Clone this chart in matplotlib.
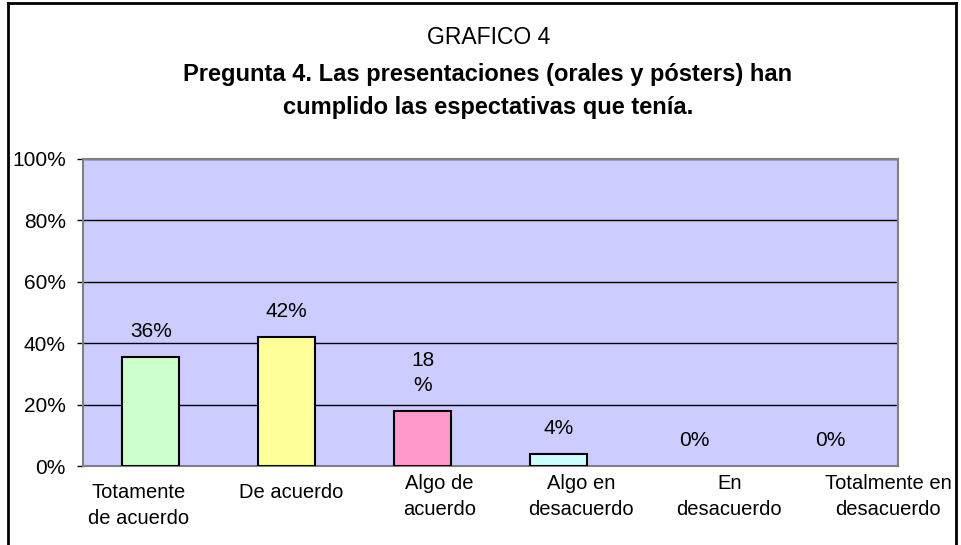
import matplotlib
matplotlib.use("Agg")
import matplotlib.pyplot as plt
from matplotlib.lines import Line2D

# Data
categories = ["Totamente\nde acuerdo", "De acuerdo", "Algo de\nacuerdo",
              "Algo en\ndesacuerdo", "En\ndesacuerdo", "Totalmente en\ndesacuerdo"]
values = [0.355, 0.42, 0.178, 0.038, 0.0, 0.0]
value_labels = ["36%", "42%", "18\n%", "4%", "0%", "0%"]
y_ticks = [0.0, 0.2, 0.4, 0.6, 0.8, 1.0]
y_tick_labels = ["0%", "20%", "40%", "60%", "80%", "100%"]

bar_colors = ["#CCFFCC", "#FFFF99", "#FF99CC", "#CCFFFF", "#CCFFFF", "#CCFFFF"]
# Excel places the wrapped category labels a bit off-centre (pixels)
label_dx = [-12, 4, 17, 23, 35, 58]
label_dy = [17, 17, 8, 8, 8, 8]

plt.rcParams["font.family"] = ["Liberation Sans", "DejaVu Sans"]

W, H = 962, 545
fig = plt.figure(figsize=(W / 100, H / 100), dpi=100)

# outer chart frame (bottom edge is cut off in the reference)
fx = lambda px: px / W
fy = lambda py: 1 - py / H
for xs, ys in [([8, 8], [3, 560]), ([8, 956], [3, 3]), ([956, 956], [3, 560])]:
    fig.add_artist(Line2D([fx(x) for x in xs], [fy(y) for y in ys], color="black", lw=2))

ax = fig.add_axes([fx(83), fy(466), fx(898) - fx(83), fy(159) - fy(466)])
ax.set_facecolor("#CCCCFF")

x = range(len(categories))
edge_widths = [1.5 if v > 0 else 0 for v in values]
ax.bar(x, values, width=0.42, color=bar_colors, edgecolor="black",
       linewidth=edge_widths, zorder=3)

ax.set_xlim(-0.5, len(categories) - 0.5)
ax.set_ylim(0, 1)
ax.set_yticks(y_ticks)
ax.set_yticklabels(y_tick_labels, fontsize=15)
ax.tick_params(axis="y", direction="out", length=4, width=1, pad=8.5, color="black")
ax.set_xticks([])
ax.yaxis.grid(True, color="black", linewidth=1)
ax.set_axisbelow(True)
for s in ax.spines.values():
    s.set_color("#808080")
    s.set_linewidth(1.5)

# value labels
for i, (v, lab) in enumerate(zip(values, value_labels)):
    ax.annotate(lab, xy=(i, v), xytext=(0, 20), textcoords="offset pixels",
                ha="center", va="baseline", fontsize=15, linespacing=1.45, zorder=4)

# category labels
for i, (cat, dx, dy) in enumerate(zip(categories, label_dx, label_dy)):
    ax.annotate(cat, xy=(i, 0), xycoords=ax.get_xaxis_transform(),
                xytext=(dx, -dy), textcoords="offset pixels",
                ha="center", va="top", fontsize=14.5, linespacing=1.45,
                annotation_clip=False)

fig.text(fx(489), fy(37), "GRAFICO 4", ha="center", va="center", fontsize=16.5)
fig.text(fx(488), fy(91), "Pregunta 4. Las presentaciones (orales y pósters) han\n"
         "cumplido las espectativas que tenía.",
         ha="center", va="center", fontsize=17, fontweight="bold", linespacing=1.6)

fig.savefig("out.png", dpi=100)
